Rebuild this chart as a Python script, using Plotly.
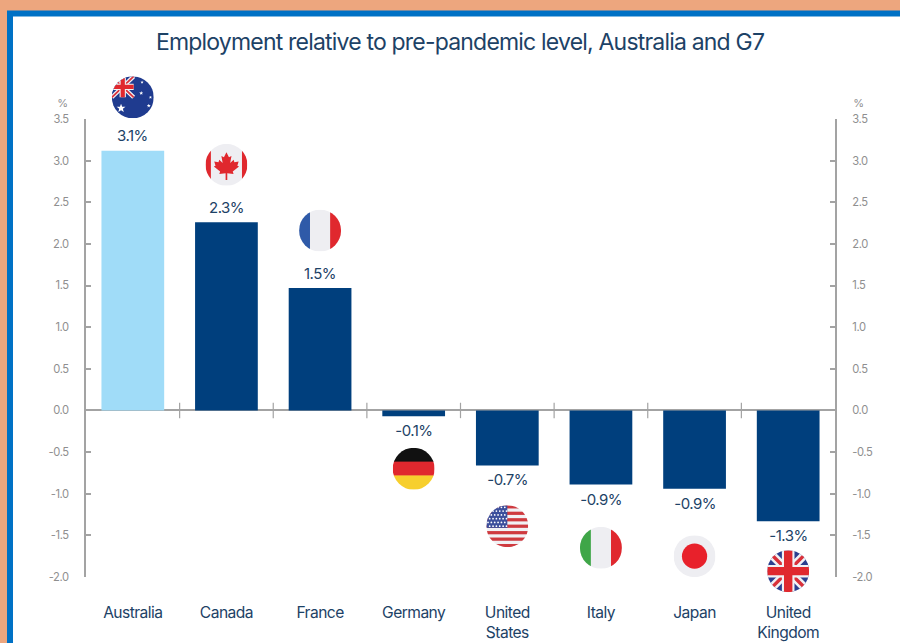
import base64
import math
import plotly.graph_objects as go

# Employment change against the pre-pandemic level, per cent
countries = ["Australia", "Canada", "France", "Germany", "United States", "Italy", "Japan", "United Kingdom"]
category_labels = ["Australia", "Canada", "France", "Germany", "United<br>States", "Italy", "Japan", "United<br>Kingdom"]
employment_change = [3.12, 2.26, 1.47, -0.07, -0.66, -0.89, -0.94, -1.33]
axis_ticks = [3.5, 3.0, 2.5, 2.0, 1.5, 1.0, 0.5, 0.0, -0.5, -1.0, -1.5, -2.0]
category_boundaries = [0.5, 1.5, 2.5, 3.5, 4.5, 5.5, 6.5]

TITLE = "Employment relative to pre-pandemic level, Australia and G7"
FONT = "Inter, 'Liberation Sans', sans-serif"
TEXT = "#1d4266"
GREY_TEXT = "#8f8f8f"
AXIS = "#a3a3a3"
NAVY = "#003f7d"
SKY = "#a0dcf8"

W, H = 900, 643
L, R, T, B = 86, 65, 118.5, 66
X_RANGE = (-0.5, 7.5)
Y_RANGE = (-2, 3.5)


def px_x(px):
    return (px - L) / (W - L - R)


def px_y(py):
    return 1 - (py - T) / (H - T - B)


def star(cx, cy, r, fill="#ffffff", points=5):
    pts = []
    for i in range(points * 2):
        a = -math.pi / 2 + i * math.pi / points
        rad = r if i % 2 == 0 else r * 0.42
        pts.append(f"{cx + rad * math.cos(a):.1f},{cy + rad * math.sin(a):.1f}")
    return f'<polygon points="{" ".join(pts)}" fill="{fill}"/>'


def union_jack(x, y, w, h, blue):
    x2, y2 = x + w, y + h
    cx, cy = x + w / 2, y + h / 2
    t = h * 0.2
    return (
        f'<rect x="{x}" y="{y}" width="{w}" height="{h}" fill="{blue}"/>'
        f'<path d="M{x} {y}L{x2} {y2}M{x2} {y}L{x} {y2}" stroke="#f1f1f4" stroke-width="{t}"/>'
        f'<path d="M{x} {y}L{x2} {y2}M{x2} {y}L{x} {y2}" stroke="#d9303a" stroke-width="{t * 0.4}"/>'
        f'<path d="M{cx} {y}V{y2}M{x} {cy}H{x2}" stroke="#f1f1f4" stroke-width="{t * 1.5}"/>'
        f'<path d="M{cx} {y}V{y2}M{x} {cy}H{x2}" stroke="#e0282e" stroke-width="{t}"/>'
    )


def flag_au():
    canton = union_jack(0, 0, 52, 50, "#1f3b8f")
    return (
        '<rect width="100" height="100" fill="#1f3b8f"/>' + canton
        + star(22, 76, 11) + star(70, 40, 5) + star(92, 50, 4) + star(88, 70, 5) + star(72, 14, 4)
    )


def flag_ca():
    leaf = ("M50 20L56 32L62 29L59 46L67 38L69 44L79 42L76 52L80 54L65 66L67 72L52 70V86H48"
            "V70L33 72L35 66L20 54L24 52L21 42L31 44L33 38L41 46L38 29L44 32Z")
    return ('<rect width="100" height="100" fill="#eeeef2"/>'
            '<rect width="13" height="100" fill="#e0282e"/>'
            '<rect x="87" width="13" height="100" fill="#e0282e"/>'
            f'<path d="{leaf}" fill="#e0282e"/>')


def flag_tri(left, mid, right):
    return (f'<rect width="100" height="100" fill="{mid}"/>'
            f'<rect width="26" height="100" fill="{left}"/>'
            f'<rect x="74" width="26" height="100" fill="{right}"/>')


def flag_de():
    return ('<rect width="100" height="34" fill="#111111"/>'
            '<rect y="33" width="100" height="34" fill="#e0282e"/>'
            '<rect y="66" width="100" height="34" fill="#f7cf2d"/>')


def flag_us():
    stripes = '<rect width="100" height="100" fill="#f1f1f4"/>'
    for i in range(7):
        stripes += f'<rect y="{i * 15.4:.1f}" width="100" height="7.7" fill="#cf3a3f"/>'
    stripes += '<rect width="50" height="54" fill="#3c4f9c"/>'
    for row in range(6):
        for col in range(6):
            stripes += f'<circle cx="{4 + col * 8 + (row % 2) * 4}" cy="{5 + row * 9}" r="2.1" fill="#ffffff"/>'
    return stripes


def flag_jp():
    return ('<rect width="100" height="100" fill="#eeeef2"/>'
            '<circle cx="50" cy="50" r="30" fill="#e8212b"/>')


def flag_uk():
    return union_jack(0, 0, 100, 100, "#2b3f8f")


def flag_uri(body):
    svg = ('<svg xmlns="http://www.w3.org/2000/svg" width="200" height="200" viewBox="0 0 100 100">'
           '<defs><clipPath id="c"><circle cx="50" cy="50" r="50"/></clipPath></defs>'
           f'<g clip-path="url(#c)">{body}</g></svg>')
    return "data:image/svg+xml;base64," + base64.b64encode(svg.encode()).decode()


# Flag discs sit on the value scale, beyond each bar's label
flags = {
    "Australia": (flag_au(), 3.76),
    "Canada": (flag_ca(), 2.95),
    "France": (flag_tri("#2f5aa8", "#eeeef2", "#e0282e"), 2.16),
    "Germany": (flag_de(), -0.70),
    "United States": (flag_us(), -1.39),
    "Italy": (flag_tri("#3fa648", "#eeeef2", "#e0282e"), -1.65),
    "Japan": (flag_jp(), -1.75),
    "United Kingdom": (flag_uk(), -1.93),
}


def frac_x(v):
    return (v - X_RANGE[0]) / (X_RANGE[1] - X_RANGE[0])


def frac_y(v):
    return (v - Y_RANGE[0]) / (Y_RANGE[1] - Y_RANGE[0])


# Paper references keep the discs from being clipped at the plot edge
images = [
    dict(source=flag_uri(flags[name][0]), xref="paper", yref="paper", x=frac_x(i), y=frac_y(flags[name][1]),
         sizex=42 / (W - L - R), sizey=42 / (H - T - B), sizing="stretch",
         xanchor="center", yanchor="middle", layer="above")
    for i, name in enumerate(countries)
]

colors = [SKY if name == "Australia" else NAVY for name in countries]
value_labels = [
    dict(x=i, y=v, text=f"{v:.1f}%", xref="x", yref="y", showarrow=False, xanchor="center", yanchor="middle",
         yshift=15 if v >= 0 else -14.5, font=dict(family=FONT, size=15, color=TEXT))
    for i, v in enumerate(employment_change)
]

fig = go.Figure()
fig.add_bar(
    x=list(range(len(countries))), y=employment_change, width=0.67,
    marker=dict(color=colors, line_width=0), showlegend=False,
)
# Short ticks across the zero line between categories
fig.add_scatter(
    x=category_boundaries, y=[0] * len(category_boundaries), yaxis="y2", mode="markers", showlegend=False,
    marker=dict(symbol="line-ns", size=11, line=dict(color=AXIS, width=1.2)),
)

y_axis = dict(
    range=list(Y_RANGE), tickvals=axis_ticks, ticktext=[f"{t:.1f}" for t in axis_ticks],
    ticks="inside", ticklen=5, tickwidth=1.5, tickcolor=AXIS, showgrid=False,
    showline=True, linecolor=AXIS, linewidth=2, ticklabelstandoff=13,
    tickfont=dict(family=FONT, size=11.2, color=GREY_TEXT),
)

fig.update_layout(
    width=W, height=H, margin=dict(l=L, r=R, t=T, b=B, autoexpand=False),
    paper_bgcolor="#eda67e", plot_bgcolor="rgba(0,0,0,0)",
    title=dict(text=TITLE, x=px_x(460), xref="paper", xanchor="center", y=1 - 42 / H, yanchor="middle",
               font=dict(family=FONT, size=23, color=TEXT)),
    xaxis=dict(range=list(X_RANGE), tickvals=list(range(len(countries))), ticktext=category_labels,
               ticks="", showline=False, showgrid=False, zeroline=False, ticklabelstandoff=24,
               tickfont=dict(family=FONT, size=15.6, color=TEXT)),
    yaxis=dict(**y_axis, zeroline=True, zerolinecolor=AXIS, zerolinewidth=1.5),
    yaxis2=dict(**y_axis, overlaying="y", side="right", zeroline=False),
    images=images,
    shapes=[
        dict(type="rect", xref="paper", yref="paper", layer="below", line_width=0, fillcolor="#0071c5",
             x0=px_x(7), x1=px_x(920), y0=px_y(670), y1=px_y(10)),
        dict(type="rect", xref="paper", yref="paper", layer="below", line_width=0, fillcolor="#ffffff",
             x0=px_x(13), x1=px_x(920), y0=px_y(670), y1=px_y(16)),
    ],
    annotations=value_labels + [
        dict(text="%", xref="paper", yref="paper", x=px_x(x), y=px_y(102), showarrow=False,
             xanchor="center", yanchor="middle", font=dict(family=FONT, size=11, color=GREY_TEXT))
        for x in (62, 858)
    ],
)

# Tighter tracking on all text, closer to a grotesque display face
tracking = """
document.querySelectorAll('svg text').forEach(function (t) { t.style.letterSpacing = '-0.035em'; });
"""

fig.write_html("out.html", config=dict(displayModeBar=False), post_script=tracking)
